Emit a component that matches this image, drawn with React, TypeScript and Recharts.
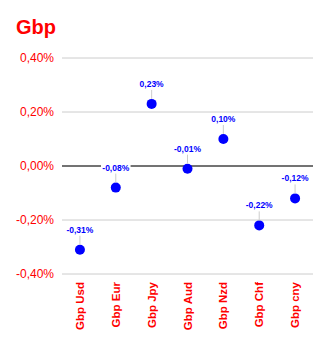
import React from 'react';
import { LineChart, Line, XAxis, YAxis, CartesianGrid, ReferenceLine, LabelList } from 'recharts';

const categories = ['Gbp Usd', 'Gbp Eur', 'Gbp Jpy', 'Gbp Aud', 'Gbp Nzd', 'Gbp Chf', 'Gbp cny'];
const values = [-0.31, -0.08, 0.23, -0.01, 0.10, -0.22, -0.12];
const yTicks = [-0.4, -0.2, 0, 0.2, 0.4];

const data = categories.map((name, i) => ({ name, value: values[i] }));

const FONT = '"Liberation Sans", Arial, sans-serif';
const fmt = (v: number) => v.toFixed(2).replace('.', ',') + '%';

const XTick = (props: any) => {
  const { x, y, payload } = props;
  return (
    <text
      x={x + 4}
      y={y}
      transform={`rotate(-90, ${x + 4}, ${y})`}
      textAnchor="end"
      fill="#ff0000"
      fontSize={11.5}
      fontWeight="bold"
      fontFamily={FONT}
    >
      {payload.value}
    </text>
  );
};

const PointLabel = (props: any) => {
  const { x, y, value } = props;
  const text = fmt(Number(value));
  const w = text.length * 4.6 + 2;
  return (
    <g>
      <line x1={x} y1={y - 14} x2={x} y2={y - 5} stroke="#cccccc" strokeWidth={1} />
      <rect x={x - w / 2} y={y - 26} width={w} height={11} fill="#ffffff" />
      <text
        x={x}
        y={y - 17}
        textAnchor="middle"
        fill="#0000ff"
        fontSize={8.5}
        fontWeight="bold"
        fontFamily={FONT}
      >
        {text}
      </text>
    </g>
  );
};

export default function App() {
  return (
    <div style={{ position: 'absolute', left: 0, top: 0, width: 329, height: 344, background: '#fff' }}>
      <div
        style={{
          position: 'absolute',
          left: 16,
          top: 15,
          fontFamily: FONT,
          fontWeight: 'bold',
          fontSize: 20,
          color: '#ff0000',
          lineHeight: '24px',
        }}
      >
        Gbp
      </div>
      <LineChart width={329} height={344} data={data} margin={{ top: 58, right: 16, bottom: 0, left: 0 }}>
        <CartesianGrid horizontal vertical={false} stroke="#cccccc" />
        <ReferenceLine y={0} stroke="#000000" strokeWidth={1} />
        <XAxis
          dataKey="name"
          scale="band"
          axisLine={false}
          tickLine={false}
          interval={0}
          height={70}
          tick={<XTick />}
        />
        <YAxis
          domain={[-0.4, 0.4]}
          ticks={yTicks}
          width={62}
          axisLine={false}
          tickLine={false}
          tickFormatter={fmt}
          tick={{ fill: '#ff0000', fontSize: 12, fontFamily: FONT }}
        />
        <Line
          dataKey="value"
          stroke="none"
          isAnimationActive={false}
          dot={{ r: 5, fill: '#0000ff', stroke: 'none' }}
          activeDot={false}
        >
          <LabelList dataKey="value" content={<PointLabel />} />
        </Line>
      </LineChart>
    </div>
  );
}
